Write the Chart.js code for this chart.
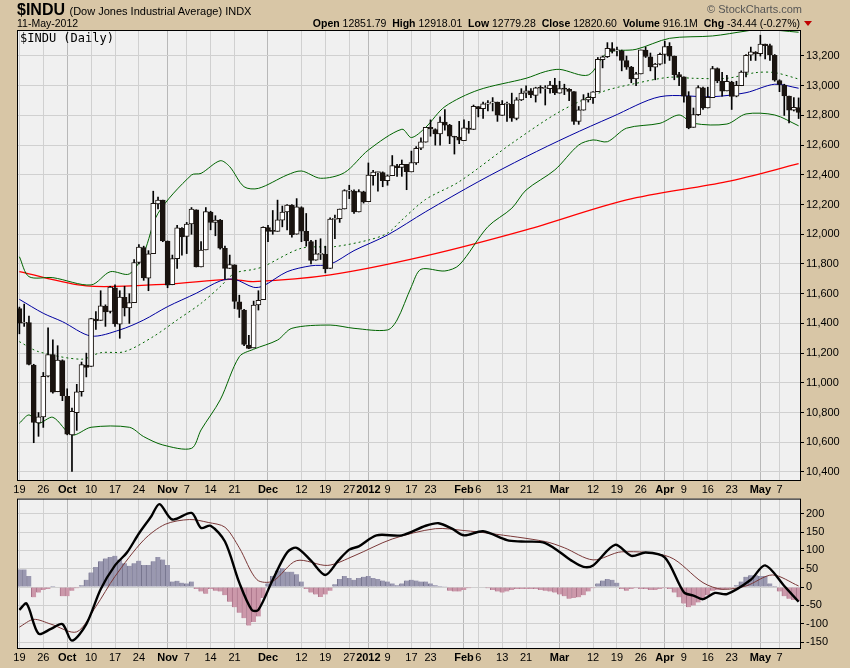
<!DOCTYPE html>
<html>
<head>
<meta charset="utf-8">
<script src="https://cdn.jsdelivr.net/npm/chart.js@4"></script>
<style>
  body { margin: 0; background: #d8c6a6; font-family: "Liberation Sans", Arial, sans-serif; }
  #wrap { position: relative; width: 850px; height: 668px; overflow: hidden; }
  .abs { position: absolute; white-space: nowrap; }
  #main { position: absolute; left: 0; top: 0; }
  #macd { position: absolute; left: 0; top: 490px; }
  b { font-weight: bold; }
</style>
</head>
<body>
<div id="wrap">
  <canvas id="main" width="850" height="500"></canvas>
  <canvas id="macd" width="850" height="178"></canvas>
  <div class="abs" style="left:17px;top:1px;font-size:16px;"><b>$INDU</b> <span style="font-size:11px">(Dow Jones Industrial Average) INDX</span></div>
  <div class="abs" style="left:17px;top:17px;font-size:10.5px;">11-May-2012</div>
  <div class="abs" style="right:48px;top:3px;font-size:11px;color:#555">© StockCharts.com</div>
  <div class="abs" style="right:50px;top:17px;font-size:10.5px;"><b>Open</b> 12851.79 &nbsp;<b>High</b> 12918.01 &nbsp;<b>Low</b> 12779.28 &nbsp;<b>Close</b> 12820.60 &nbsp;<b>Volume</b> 916.1M &nbsp;<b>Chg</b> -34.44 (-0.27%)</div>
  <div class="abs" style="left:804px;top:21px;width:0;height:0;border-left:4px solid transparent;border-right:4px solid transparent;border-top:5px solid #c00000;"></div>
  <div class="abs" style="left:20px;top:31px;font-size:12px;font-family:'DejaVu Sans Mono',monospace;">$INDU (Daily)</div>
</div>
<script>
// Daily candles: [open, high, low, close], 19-Sep-2011 .. 11-May-2012
const candles = [
  [11500,11510,11330,11401],[11401,11530,11380,11408],[11406,11450,11120,11124],[11120,11125,10597,10733],[10730,10800,10640,10771],
  [10770,11070,10700,11043],[11045,11370,11040,11190],[11190,11290,10930,10938],[10940,11250,10940,11153],[11150,11155,10880,10913],
  [10910,10960,10650,10655],[10650,10830,10404,10808],[10800,10990,10680,10939],[10940,11140,10910,11123],[11120,11200,11040,11103],
  [11110,11435,11110,11433],[11430,11480,11360,11416],[11420,11620,11420,11518],[11515,11525,11380,11478],[11480,11650,11470,11644],
  [11640,11660,11380,11397],[11395,11620,11300,11577],[11575,11650,11450,11505],[11505,11600,11400,11541],[11540,11830,11540,11809],
  [11810,11930,11800,11913],[11910,11920,11690,11706],[11705,11890,11620,11869],[11870,12290,11870,12208],[12205,12250,12170,12231],
  [12230,12230,11950,11955],[11955,11955,11640,11657],[11660,11860,11660,11836],[11835,12060,11770,12044],[12040,12045,11860,11983],
  [11985,12080,11870,12069],[12070,12180,12000,12170],[12165,12165,11780,11781],[11780,11950,11780,11894],[11895,12180,11895,12153],
  [12150,12155,12030,12079],[12080,12125,11990,12096],[12095,12100,11900,11906],[11905,11920,11700,11771],[11770,11860,11770,11796],
  [11795,11795,11500,11548],[11545,11590,11440,11494],[11490,11495,11250,11258],[11255,11320,11230,11231],[11235,11550,11235,11524],
  [11525,11620,11490,11556],[11560,12050,11560,12046],[12045,12060,11950,12020],[12020,12160,12000,12019],[12020,12230,12020,12098],
  [12095,12190,12050,12150],[12150,12200,12030,12196],[12195,12200,11980,11998],[12000,12240,12000,12184],[12180,12185,11950,12021],
  [12020,12140,11920,11955],[11950,11960,11800,11824],[11825,11960,11825,11868],[11865,11970,11830,11867],[11865,11920,11740,11766],
  [11770,12110,11770,12103],[12100,12130,11970,12107],[12105,12170,12080,12169],[12170,12300,12170,12294],[12290,12330,12240,12291],
  [12290,12300,12140,12151],[12150,12300,12150,12288],[12285,12290,12210,12218],[12220,12480,12220,12398],[12395,12430,12330,12418],
  [12415,12420,12290,12416],[12415,12420,12320,12360],[12360,12400,12330,12393],[12395,12530,12395,12463],[12460,12470,12390,12449],
  [12450,12500,12390,12471],[12470,12470,12300,12422],[12420,12560,12420,12482],[12480,12590,12470,12579],[12580,12650,12570,12623],
  [12620,12720,12620,12720],[12720,12770,12660,12709],[12705,12710,12600,12675],[12675,12790,12600,12756],[12755,12840,12700,12735],
  [12735,12740,12610,12660],[12655,12660,12540,12653],[12655,12760,12610,12633],[12630,12770,12630,12716],[12715,12760,12680,12705],
  [12705,12870,12705,12862],[12860,12860,12790,12845],[12845,12890,12780,12878],[12875,12900,12830,12884],[12885,12920,12830,12891],
  [12890,12890,12760,12801],[12800,12900,12800,12874],[12875,12890,12760,12878],[12875,12950,12760,12781],[12780,12920,12770,12905],
  [12905,12980,12900,12950],[12950,13000,12920,12966],[12965,12980,12920,12938],[12935,12990,12890,12985],[12985,13000,12950,12983],
  [12980,13000,12870,12982],[12980,13030,12950,13005],[13005,13050,12940,12952],[12950,13030,12950,12980],[12980,13010,12940,12977],
  [12975,12980,12900,12962],[12960,12960,12740,12759],[12760,12860,12740,12837],[12835,12940,12835,12907],[12905,12950,12890,12922],
  [12920,12960,12880,12959],[12960,13190,12960,13177],[13175,13200,13120,13194],[13195,13290,13190,13252],[13250,13290,13220,13233],
  [13235,13260,13200,13239],[13235,13240,13100,13170],[13170,13200,13110,13125],[13125,13130,13020,13046],[13045,13090,13000,13080],
  [13080,13240,13080,13241],[13240,13260,13190,13197],[13195,13220,13100,13126],[13125,13150,13040,13145],[13145,13220,13140,13212],
  [13210,13300,13150,13264],[13265,13290,13170,13199],[13200,13200,13040,13075],[13075,13090,13000,13060],[13060,13060,12890,12929],
  [12930,12960,12710,12716],[12720,12850,12720,12806],[12805,13000,12800,12987],[12985,12990,12840,12850],[12850,12990,12850,12921],
  [12920,13130,12920,13115],[13115,13120,13020,13032],[13030,13090,12930,12964],[12965,13070,12965,13029],[13025,13030,12840,12928],
  [12930,13030,12925,13002],[13000,13100,13000,13091],[13090,13210,13060,13205],[13205,13260,13170,13228],[13225,13230,13170,13214],
  [13215,13340,13200,13280],[13280,13280,13180,13269],[13270,13280,13170,13207],[13205,13210,13030,13038],[13035,13040,12960,13009],
  [13005,13010,12800,12932],[12930,12930,12750,12835],[12835,12920,12830,12855],[12852,12918,12779,12821]
];

// Overlay lines: [day index, value]
const sma200 = [[0,11748],[14,11652],[31,11665],[44,11697],[49,11681],[65,11726],[85,11854],[106,12029],[127,12231],[148,12354],[163,12475]];
const sma50 = [[0,11562],[5,11468],[9,11412],[15,11315],[21,11356],[26,11423],[31,11513],[37,11603],[42,11686],[45,11697],[49,11643],[51,11652],[56,11748],[61,11788],[65,11798],[70,11890],[77,11995],[85,12152],[96,12354],[106,12522],[115,12662],[124,12791],[134,12926],[145,12926],[152,12953],[158,13010],[163,12983]];
const sma20 = [[0,11277],[4,11210],[13,11159],[17,11203],[22,11210],[28,11311],[33,11423],[38,11535],[42,11647],[45,11737],[49,11764],[51,11782],[59,11906],[66,11917],[73,11961],[77,12007],[80,12096],[85,12235],[92,12354],[103,12612],[113,12825],[122,12960],[129,13016],[136,13057],[141,13050],[148,13050],[154,13088],[158,13088],[163,13045]];
const bbUpper = [[0,11849],[2,11715],[7,11708],[15,11659],[19,11748],[23,11733],[26,11872],[29,12141],[36,12399],[38,12410],[42,12495],[44,12455],[47,12320],[50,12309],[56,12399],[59,12426],[63,12377],[68,12415],[73,12567],[80,12707],[82,12651],[85,12720],[89,12859],[96,12971],[106,13050],[110,13095],[113,13110],[119,13072],[123,13222],[129,13245],[136,13319],[145,13335],[152,13368],[155,13380],[163,13360]];
const bbLower = [[0,10728],[2,10784],[4,10728],[7,10768],[11,10649],[15,10701],[23,10701],[26,10638],[30,10582],[36,10559],[38,10683],[42,10885],[46,11176],[49,11226],[54,11288],[57,11367],[65,11389],[70,11367],[77,11356],[79,11423],[82,11647],[84,11764],[89,11753],[92,11793],[98,12051],[103,12175],[106,12298],[112,12433],[117,12601],[120,12635],[123,12623],[127,12714],[134,12747],[138,12803],[141,12747],[148,12742],[152,12810],[158,12803],[163,12730]];

// MACD(12,26,9) panel
const macdLine = [[0,-62],[1.5,-45],[4,-127],[6.6,-114],[9,-101],[11,-146],[14,-101],[17,-6],[20,59],[22.5,94],[25,146],[27.6,193],[29.3,226],[32,184],[36,202],[38,161],[40,167],[43,124],[46,12],[48.6,-62],[50,-62],[53,20],[56,94],[58,107],[61,72],[64,33],[66.7,72],[69,102],[71,111],[74.7,141],[80,141],[85,167],[87.7,174],[90.5,159],[93,141],[97,152],[102,128],[105,124],[110,120],[115.5,72],[118,55],[120,59],[124.6,115],[128,85],[131,94],[135,81],[139,-14],[141,-23],[143,-33],[145.5,-16],[148,-19],[153,20],[156,59],[160,3],[163,-40]];
const signalLine = [[0,-109],[3,-88],[6.6,-101],[12,-122],[16,-53],[20,29],[26,128],[30.5,171],[35.6,184],[39.5,176],[43,163],[46,107],[49.7,20],[53,16],[58,72],[64.5,59],[70,85],[78,131],[87,159],[93,154],[98.5,146],[110,124],[114,107],[120,74],[126,96],[136,82],[143,12],[147,-6],[152,3],[157.5,33],[163,3]];
const histogram = [48,48,30,-28,-15,-8,-5,3,0,-25,-25,-10,-3,5,20,40,55,70,78,82,85,75,65,58,65,72,60,60,70,82,75,60,
  15,17,12,10,15,-5,-12,-18,-5,-10,-12,-22,-40,-55,-70,-85,-105,-95,-80,-30,
  10,30,45,52,42,42,35,15,-5,-15,-20,-27,-20,-10,
  8,22,30,25,20,25,28,30,25,22,18,15,10,5,10,18,20,18,15,15,10,5,3,1,
  -10,-12,-12,-8,-3,0,0,0,-3,-8,-12,-15,-12,-8,-5,-5,-5,-5,-5,-8,-10,-12,-15,-20,-25,-32,-30,-28,-22,-12,-3,
  10,18,22,20,12,-5,-10,-5,-3,-5,-5,-8,-8,-5,-3,-5,-15,-28,-45,-55,-50,-42,-35,-22,-10,-8,-8,-5,-3,
  5,15,28,32,32,30,30,10,3,-12,-25,-32,-35,-38];

// x-axis ticks: day index and label
const tickIdx = [0,5,10,15,20,25,31,35,40,45,52,59,64,69,73,77,82,86,93,96,101,106,113,120,125,130,135,139,144,149,155,159];
const tickText = ['19','26','Oct','10','17','24','Nov','7','14','21','Dec','12','19','27','2012','9','17','23','Feb','6','13','21','Mar','12','19','26','Apr','9','16','23','May','7'];
const boldTicks = ['Oct','Nov','Dec','2012','Feb','Mar','Apr','May'];
const priceTicks = [10400,10600,10800,11000,11200,11400,11600,11800,12000,12200,12400,12600,12800,13000,13200];
const macdTicks = [-150,-100,-50,0,50,100,150,200];

const pts = arr => arr.map(([x, y]) => ({ x, y }));
const FONT = { family: 'Liberation Sans, Arial, sans-serif', size: 11 };

const plotBg = {
  id: 'plotBg',
  beforeDraw(chart) {
    const { ctx, chartArea: a } = chart;
    ctx.save();
    ctx.fillStyle = '#f0f0f0';
    ctx.fillRect(a.left, a.top, a.right - a.left, a.bottom - a.top);
    ctx.restore();
  },
  afterDraw(chart) {
    const { ctx, chartArea: a } = chart;
    ctx.save();
    ctx.strokeStyle = '#000';
    ctx.lineWidth = 1;
    ctx.strokeRect(a.left + 0.5, a.top + 0.5, a.right - a.left - 1, a.bottom - a.top);
    ctx.restore();
  }
};

function xScale() {
  return {
    type: 'linear', min: -0.5, max: 163.5, offset: false,
    afterBuildTicks: s => { s.ticks = tickIdx.map(v => ({ value: v })); },
    afterFit: s => { s.height = 20; },
    grid: { offset: false, color: ctx => boldTicks.includes(tickText[ctx.index]) ? '#b8b8b8' : '#d0d0d0', drawTicks: false },
    border: { display: false },
    ticks: {
      autoSkip: false, maxRotation: 0, padding: 3, color: '#000',
      font: ctx => ({ ...FONT, weight: boldTicks.includes(tickText[ctx.index]) ? 'bold' : 'normal' }),
      callback: (v, i) => tickText[i]
    }
  };
}

function yScale(min, max, list) {
  return {
    position: 'right', min, max,
    afterBuildTicks: s => { s.ticks = list.map(v => ({ value: v })); },
    afterFit: s => { s.width = 49; },
    grid: { color: '#d0d0d0', drawTicks: true, tickLength: 3, tickColor: '#000' },
    border: { display: false },
    ticks: { color: '#000', font: FONT, padding: 2 }
  };
}

const lineSet = (data, color, extra) => Object.assign({
  type: 'line', data: pts(data), borderColor: color, borderWidth: 1,
  pointRadius: 0, tension: 0.3, order: 2
}, extra);

new Chart(document.getElementById('main'), {
  type: 'bar',
  data: {
    datasets: [
      {
        data: candles.map((c, i) => ({ x: i, y: [c[2], c[1]] })),
        backgroundColor: '#000', barThickness: 1, grouped: false, order: 1
      },
      {
        data: candles.map((c, i) => ({ x: i, y: [c[0], c[3]] })),
        backgroundColor: candles.map(c => c[3] >= c[0] ? '#ffffff' : '#1a1410'),
        borderColor: '#1a1410', borderWidth: 1, borderSkipped: false,
        barThickness: 5, minBarLength: 1, grouped: false, order: 0
      },
      lineSet(bbUpper, '#006400'),
      lineSet(bbLower, '#006400'),
      lineSet(sma20, '#006400', { borderDash: [2, 3] }),
      lineSet(sma50, '#0000a0'),
      lineSet(sma200, '#ff0000', { borderWidth: 1.3 })
    ]
  },
  options: {
    responsive: false, animation: false,
    layout: { padding: { left: 17, top: 30, right: 0, bottom: 0 } },
    plugins: { legend: { display: false }, tooltip: { enabled: false } },
    scales: { x: xScale(), y: yScale(10346, 13375, priceTicks) }
  },
  plugins: [plotBg]
});

new Chart(document.getElementById('macd'), {
  type: 'bar',
  data: {
    datasets: [
      {
        data: histogram.map((v, i) => ({ x: i, y: v })),
        backgroundColor: histogram.map(v => v >= 0 ? '#9a98b0' : '#cc98aa'),
        borderColor: histogram.map(v => v >= 0 ? '#74728c' : '#a87288'),
        borderWidth: { left: 1, right: 0, top: 0, bottom: 0 },
        barThickness: 4.8, order: 2
      },
      lineSet(signalLine, '#7a3838', { order: 1 }),
      lineSet(macdLine, '#000000', { borderWidth: 2.4, order: 0 })
    ]
  },
  options: {
    responsive: false, animation: false,
    layout: { padding: { left: 17, top: 5, right: 0, bottom: 0 } },
    plugins: { legend: { display: false }, tooltip: { enabled: false } },
    scales: { x: xScale(), y: yScale(-166, 241, macdTicks) }
  },
  plugins: [plotBg]
});
</script>
</body>
</html>
